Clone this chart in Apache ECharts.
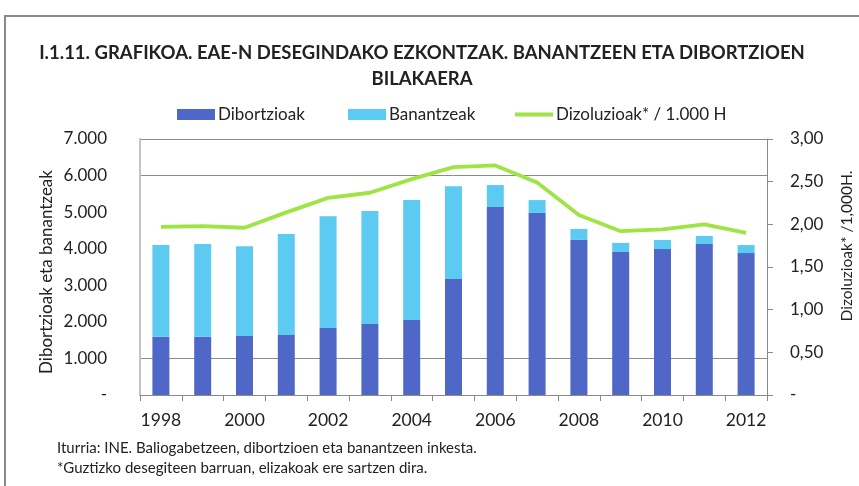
<!DOCTYPE html>
<html>
<head>
<meta charset="utf-8">
<script src="https://cdn.jsdelivr.net/npm/echarts@6/dist/echarts.min.js"></script>
<style>
  html, body { margin: 0; padding: 0; background: #fff; }
  #chart { width: 859px; height: 486px; }
</style>
</head>
<body>
<div id="chart"></div>
<script>
const years = ['1998', '1999', '2000', '2001', '2002', '2003', '2004', '2005', '2006', '2007', '2008', '2009', '2010', '2011', '2012']
const dibortzioak = [1590, 1590, 1610, 1640, 1830, 1940, 2050, 3170, 5140, 4980, 4240, 3910, 3990, 4130, 3880]
const banantzeak = [2510, 2540, 2460, 2760, 3060, 3090, 3280, 2540, 600, 350, 300, 250, 250, 220, 220]
const dizoluzioak = [1.97, 1.98, 1.96, 2.14, 2.31, 2.37, 2.53, 2.67, 2.69, 2.49, 2.11, 1.92, 1.94, 2.00, 1.90]

const FONT = 'Lato'
const TXT = '#222'

const myChart = echarts.init(document.getElementById('chart'))

// ezkerreko ardatza: 7.000 formatua, zeroa '-'
const fmtLeft = (v) => v === 0 ? '-' : String(v).replace(/\B(?=(\d{3})+(?!\d))/g, '.')
const fmtRight = (v) => v === 0 ? '-' : v.toFixed(2).replace('.', ',')

const legendBase = {
  top: 101,
  itemWidth: 38,
  itemHeight: 11,
  itemGap: 0,
  textStyle: { color: TXT, fontSize: 17, fontFamily: FONT, padding: [0, 0, 0, -2] },
}

myChart.setOption({
  animation: false,
  title: {
    text: 'I.1.11. GRAFIKOA. EAE-N DESEGINDAKO EZKONTZAK. BANANTZEEN ETA DIBORTZIOEN\nBILAKAERA',
    left: 417,
    top: 35,
    textAlign: 'center',
    textStyle: { color: TXT, fontSize: 18.5, fontWeight: 'bold', fontFamily: FONT, lineHeight: 26 },
  },
  legend: [
    Object.assign({}, legendBase, { left: 172, data: [{ name: 'Dibortzioak', icon: 'rect' }] }),
    Object.assign({}, legendBase, { left: 343, data: [{ name: 'Banantzeak', icon: 'rect' }] }),
    Object.assign({}, legendBase, { left: 510, itemHeight: 4, data: [{ name: 'Dizoluzioak* / 1.000 H', icon: 'rect' }] }),
  ],
  graphic: [
    {
      type: 'rect',
      shape: { x: 5, y: 16, width: 900, height: 520 },
      style: { fill: 'none', stroke: '#8a8a8a', lineWidth: 2 },
      silent: true,
    },
    {
      type: 'text',
      left: 57,
      top: 441,
      style: { text: 'Iturria: INE. Baliogabetzeen, dibortzioen eta banantzeen inkesta.', fill: TXT, font: '15px ' + FONT },
    },
    {
      type: 'text',
      left: 57,
      top: 461,
      style: { text: '*Guztizko desegiteen barruan, elizakoak ere sartzen dira.', fill: TXT, font: '15px ' + FONT },
    },
  ],
  grid: {
    left: 140,
    right: 92,
    top: 139,
    bottom: 91,
    containLabel: false,
    outerBoundsMode: 'none',
  },
  xAxis: {
    type: 'category',
    data: years,
    axisLine: { lineStyle: { color: '#8a8a8a' } },
    axisTick: { show: true, interval: 0, length: 6, lineStyle: { color: '#8a8a8a' } },
    axisLabel: { interval: 1, color: TXT, fontSize: 17.5, fontFamily: FONT, margin: 16 },
  },
  yAxis: [
    {
      type: 'value',
      min: 0,
      max: 7000,
      interval: 1000,
      name: 'Dibortzioak eta banantzeak',
      nameLocation: 'middle',
      nameGap: 85,
      nameMoveOverlap: false,
      nameTextStyle: { color: TXT, fontSize: 17, fontFamily: FONT, padding: [0, 10, 0, 0] },
      axisLine: { show: true, lineStyle: { color: '#c4c4c4', width: 2 } },
      axisTick: { show: false },
      axisLabel: { formatter: fmtLeft, color: TXT, fontSize: 17, fontFamily: FONT, margin: 33 },
      splitLine: {
        show: true,
        lineStyle: {
          color: ['rgba(0,0,0,0)', '#8a8a8a', 'rgba(0,0,0,0)', 'rgba(0,0,0,0)', 'rgba(0,0,0,0)', 'rgba(0,0,0,0)', '#8a8a8a', '#8a8a8a'],
        },
      },
    },
    {
      type: 'value',
      position: 'right',
      min: 0,
      max: 3,
      interval: 0.5,
      name: 'Dizoluzioak* /1,000H.',
      nameLocation: 'middle',
      nameGap: 72,
      nameMoveOverlap: false,
      nameTextStyle: { color: TXT, fontSize: 15.5, fontFamily: FONT, padding: [0, 0, 0, 42] },
      axisLine: { show: true, lineStyle: { color: '#8a8a8a' } },
      axisTick: { show: true, inside: false, length: 6, lineStyle: { color: '#8a8a8a' } },
      axisLabel: { formatter: fmtRight, color: TXT, fontSize: 17, fontFamily: FONT, margin: 23 },
      splitLine: { show: false },
    },
  ],
  series: [
    {
      name: 'Dibortzioak',
      type: 'bar',
      stack: 'total',
      barWidth: 17,
      itemStyle: { color: '#4f68c8' },
      data: dibortzioak,
    },
    {
      name: 'Banantzeak',
      type: 'bar',
      stack: 'total',
      barWidth: 17,
      itemStyle: { color: '#5dcbf1' },
      data: banantzeak,
    },
    {
      name: 'Dizoluzioak* / 1.000 H',
      type: 'line',
      yAxisIndex: 1,
      symbol: 'none',
      lineStyle: { color: '#9ee444', width: 3.8 },
      itemStyle: { color: '#9ee444' },
      data: dizoluzioak,
    },
  ],
})
</script>
</body>
</html>
